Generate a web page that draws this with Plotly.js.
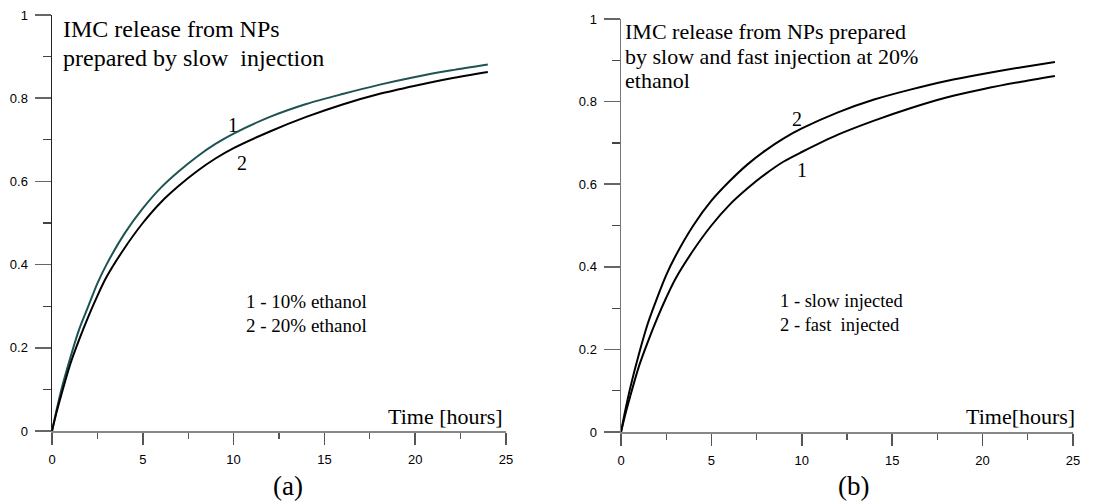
<!DOCTYPE html>
<html>
<head>
<meta charset="utf-8">
<script src="https://cdn.plot.ly/plotly-3.0.1.min.js"></script>
<style>html,body{margin:0;padding:0;background:#fff;}#chart{width:1097px;height:504px;}</style>
</head>
<body>
<div id="chart"></div>
<script>
// Time points (hours)
const timeHours = [0, 0.25, 0.5, 1, 1.5, 2, 2.5, 3, 4, 5, 6, 7, 8, 9, 10, 12, 14, 16, 18, 20, 22, 24];
// Panel (a): slow injection, 10% and 20% ethanol
const a_eth10 = [0, 0.05, 0.097, 0.175, 0.245, 0.30, 0.355, 0.40, 0.475, 0.535, 0.585, 0.625, 0.66, 0.69, 0.715, 0.755, 0.786, 0.81, 0.832, 0.851, 0.867, 0.881];
const a_eth20 = [0, 0.045, 0.085, 0.16, 0.22, 0.275, 0.325, 0.37, 0.44, 0.50, 0.55, 0.59, 0.625, 0.655, 0.68, 0.72, 0.755, 0.785, 0.81, 0.83, 0.848, 0.863];
// Panel (b): 20% ethanol, slow vs fast injection
const b_slow = [0, 0.045, 0.085, 0.16, 0.22, 0.275, 0.325, 0.37, 0.44, 0.50, 0.55, 0.59, 0.625, 0.655, 0.678, 0.72, 0.754, 0.784, 0.81, 0.83, 0.847, 0.862];
const b_fast = [0, 0.055, 0.105, 0.19, 0.265, 0.325, 0.38, 0.425, 0.50, 0.56, 0.607, 0.648, 0.682, 0.711, 0.735, 0.774, 0.805, 0.829, 0.85, 0.867, 0.882, 0.896];

const xTicks = [0, 5, 10, 15, 20, 25];
const xMinorTicks = [2.5, 7.5, 12.5, 17.5, 22.5];
const yTicks = [0, 0.2, 0.4, 0.6, 0.8, 1];
const yTickText = ['0', '0.2', '0.4', '0.6', '0.8', '1'];
const yMinorTicks = [0.1, 0.3, 0.5, 0.7, 0.9];

const W = 1097, H = 504;
const px = x => x / W;
const py = y => 1 - y / H;

const serif = 'Liberation Serif';
const sans = 'Liberation Sans';

function xaxisDef(domain, lineColor, anchor) {
  return {
    domain: domain, range: [0, 25], tickmode: 'array', tickvals: xTicks, ticktext: xTicks.map(String), anchor: anchor,
    showgrid: false, zeroline: false, showline: true, linecolor: lineColor, linewidth: 2,
    ticks: 'outside', ticklen: 12, tickwidth: 1.5, tickcolor: '#555',
    minor: {tickmode: 'array', tickvals: xMinorTicks, ticks: 'outside', ticklen: 6, tickwidth: 1.2, tickcolor: '#555', showgrid: false},
    tickfont: {family: sans, size: 13, color: '#000'}, ticklabelstandoff: 3,
    fixedrange: true
  };
}
function yaxisDef(domain, anchor, lineColor) {
  return {
    domain: domain, range: [0, 1], tickmode: 'array', tickvals: yTicks, ticktext: yTickText, anchor: anchor,
    showgrid: false, zeroline: false, showline: true, linecolor: lineColor, linewidth: 1.5,
    ticks: 'outside', ticklen: 16, tickwidth: 1.5, tickcolor: '#666',
    minor: {tickmode: 'array', tickvals: yMinorTicks, ticks: 'outside', ticklen: 8, tickwidth: 1.2, tickcolor: '#444', showgrid: false},
    tickfont: {family: sans, size: 13, color: '#000'}, ticklabelstandoff: 4,
    fixedrange: true
  };
}

const traces = [
  {x: timeHours, y: a_eth10, xaxis: 'x', yaxis: 'y', mode: 'lines', line: {color: '#1d5453', width: 2, shape: 'spline', smoothing: 0.8}},
  {x: timeHours, y: a_eth20, xaxis: 'x', yaxis: 'y', mode: 'lines', line: {color: '#000', width: 2, shape: 'spline', smoothing: 0.8}},
  {x: timeHours, y: b_slow, xaxis: 'x2', yaxis: 'y2', mode: 'lines', line: {color: '#000', width: 2, shape: 'spline', smoothing: 0.8}},
  {x: timeHours, y: b_fast, xaxis: 'x2', yaxis: 'y2', mode: 'lines', line: {color: '#000', width: 2, shape: 'spline', smoothing: 0.8}}
];

function txt(text, x, y, size, xanchor) {
  return {text: text, xref: 'paper', yref: 'paper', x: px(x), y: py(y), xanchor: xanchor || 'left', yanchor: 'middle',
          showarrow: false, font: {family: serif, size: size, color: '#000'}};
}

const annotations = [
  txt('IMC release from NPs', 61, 29, 24),
  txt('prepared by slow \u00a0injection', 61, 58, 24),
  txt('1', 233, 125, 20, 'center'),
  txt('2', 242, 163, 20, 'center'),
  txt('1 - 10% ethanol', 244, 301, 19),
  txt('2 - 20% ethanol', 244, 325, 19),
  txt('Time [hours]', 505, 416, 22, 'right'),
  txt('(a)', 288, 486, 27, 'center'),
  txt('IMC release from NPs prepared', 623, 31, 22),
  txt('by slow and fast injection at 20%', 623, 56, 22),
  txt('ethanol', 623, 80, 22),
  txt('2', 797, 119, 20, 'center'),
  txt('1', 802, 170, 20, 'center'),
  txt('1 - slow injected', 778, 301, 18.5),
  txt('2 - fast \u00a0injected', 778, 325, 18.5),
  txt('Time[hours]', 1077, 416, 22, 'right'),
  txt('(b)', 853, 486, 27, 'center')
];

const layout = {
  width: W, height: H, margin: {l: 0, r: 0, t: 0, b: 0},
  paper_bgcolor: '#fff', plot_bgcolor: '#fff', showlegend: false,
  xaxis: xaxisDef([px(52), px(506)], '#888', 'y'),
  yaxis: yaxisDef([py(431), py(15)], 'x', '#222'),
  xaxis2: xaxisDef([px(621), px(1073)], '#888', 'y2'),
  yaxis2: yaxisDef([py(432), py(19)], 'x2', '#777'),
  annotations: annotations
};

Plotly.newPlot('chart', traces, layout, {staticPlot: true, displayModeBar: false});
</script>
</body>
</html>
